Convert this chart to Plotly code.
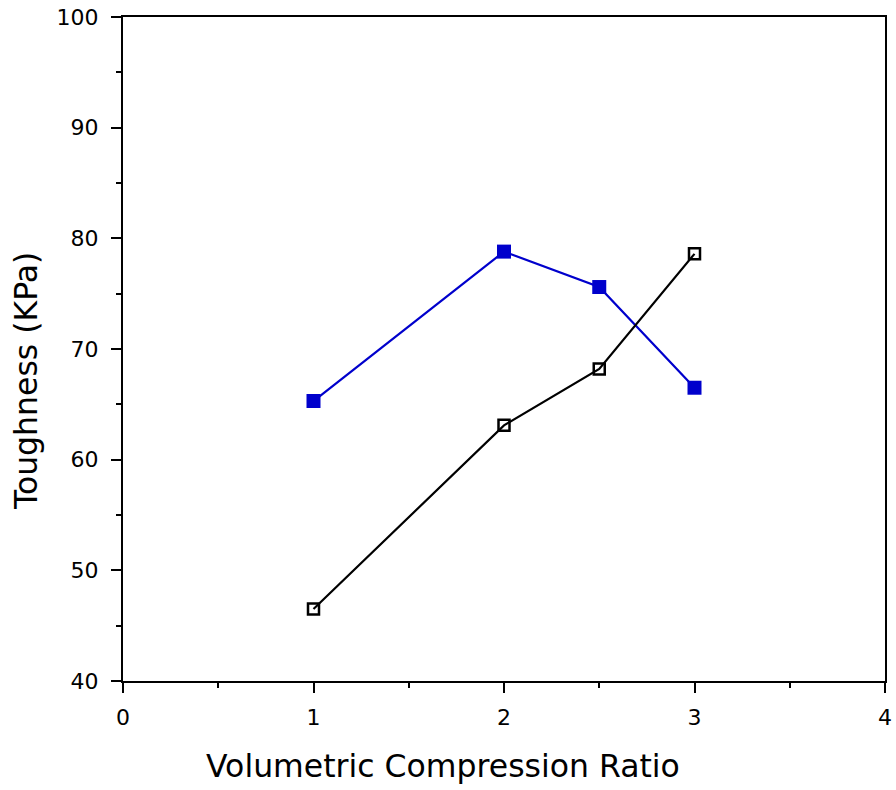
import plotly.graph_objects as go

x_vals = [1, 2, 2.5, 3]
blue_y = [65.3, 78.8, 75.6, 66.5]
black_y = [46.5, 63.1, 68.2, 78.6]

x_ticks = [0, 1, 2, 3, 4]
y_ticks = [40, 50, 60, 70, 80, 90, 100]

x_title = "Volumetric Compression Ratio"
y_title = "Toughness (KPa)"

fig = go.Figure()
fig.add_trace(go.Scatter(
    x=x_vals, y=blue_y, mode="lines+markers",
    line=dict(color="#0000CC", width=2.2),
    marker=dict(symbol="square", size=14, color="#0000CC", line=dict(width=0)),
    showlegend=False))
fig.add_trace(go.Scatter(
    x=x_vals, y=black_y, mode="lines+markers",
    line=dict(color="black", width=2.2),
    marker=dict(symbol="square-open", size=11, color="black", line=dict(width=2.5)),
    showlegend=False))

font = "DejaVu Sans, Verdana, sans-serif"
fig.update_layout(
    width=896, height=790,
    margin=dict(l=123, r=11, t=17, b=109),
    paper_bgcolor="white", plot_bgcolor="white",
    font=dict(family=font, color="black", size=23),
)
fig.update_xaxes(
    range=[0, 4], tickvals=x_ticks, ticktext=[str(v) for v in x_ticks],
    showgrid=False, zeroline=False, showline=True, linecolor="black", linewidth=2,
    mirror=True, ticks="outside", ticklen=10, tickwidth=2, tickcolor="black",
    minor=dict(dtick=0.5, ticks="outside", ticklen=5, tickwidth=2, tickcolor="black"),
    tickfont=dict(size=22), automargin=False, ticklabelstandoff=6,
)
fig.update_yaxes(
    range=[40, 100], tickvals=y_ticks, ticktext=[str(v) for v in y_ticks],
    showgrid=False, zeroline=False, showline=True, linecolor="black", linewidth=2,
    mirror=True, ticks="outside", ticklen=10, tickwidth=2, tickcolor="black",
    minor=dict(dtick=5, ticks="outside", ticklen=5, tickwidth=2, tickcolor="black"),
    tickfont=dict(size=22), automargin=False, ticklabelstandoff=8,
)
fig.add_annotation(text=x_title, xref="paper", yref="paper", x=0.4196, y=-0.128,
                   xanchor="center", yanchor="middle", showarrow=False,
                   font=dict(size=31.5))
fig.add_annotation(text=y_title, xref="paper", yref="paper", x=-0.1273, y=0.4518,
                   xanchor="center", yanchor="middle", showarrow=False, textangle=-90,
                   font=dict(size=31.5))

fig.write_html("out.html")
